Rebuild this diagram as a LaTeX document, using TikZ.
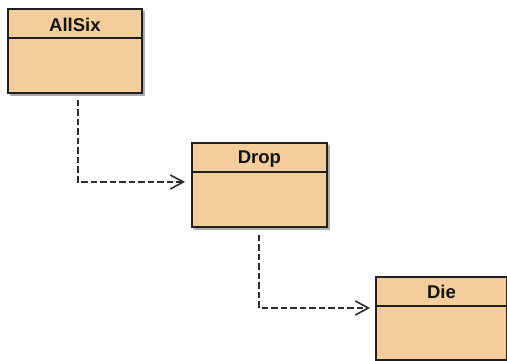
\documentclass[tikz,border=0pt]{standalone}
\usepackage{fontspec}
\setmainfont{Liberation Sans}
\usetikzlibrary{arrows.meta}
\definecolor{classfill}{RGB}{244,205,157}
\definecolor{classline}{RGB}{32,32,32}
\definecolor{depline}{RGB}{45,45,45}
\tikzset{
  classbox/.style={draw=classline, line width=1.9pt, fill=classfill, inner sep=0pt, anchor=north west},
  classrule/.style={draw=classline, line width=1.6pt},
  classname/.style={font=\bfseries\fontsize{18.5}{22}\selectfont, text=black!92, inner sep=0pt},
  classshadow/.style={fill=black, opacity=0.12},
  dependency/.style={draw=depline, line width=1.6pt, dash pattern=on 6.5pt off 3pt,
    -{Straight Barb[length=13pt,width=14pt,line width=1.6pt]}},
}
\begin{document}
\begin{tikzpicture}[x=1pt,y=-1pt]
\useasboundingbox (0,0) rectangle (507,361);

% soft drop shadows under the class boxes
\foreach \x/\y/\w/\h in {7/8/134/84, 191/142/135/84, 375/276/131/83}{
  \fill[classshadow] (\x+2,\y+2) rectangle ++(\w+2,\h+2);
  \fill[classshadow] (\x+3,\y+3) rectangle ++(\w+1,\h+1);
  \fill[classshadow] (\x+4,\y+4) rectangle ++(\w,\h);
}

% class AllSix
\node[classbox, minimum width=134pt, minimum height=84pt] (allsix) at (7,8) {};
\draw[classrule] ([yshift=-30pt]allsix.north west) -- ([yshift=-30pt]allsix.north east);
\node[classname] (allsixname) at ([yshift=-17pt]allsix.north) {AllSix};

% class Drop
\node[classbox, minimum width=135pt, minimum height=84pt] (drop) at (191,142) {};
\draw[classrule] ([yshift=-30pt]drop.north west) -- ([yshift=-30pt]drop.north east);
\node[classname] (dropname) at ([yshift=-17pt]drop.north) {Drop};

% class Die
\node[classbox, minimum width=131pt, minimum height=83pt] (die) at (375,276) {};
\draw[classrule] ([yshift=-30pt]die.north west) -- ([yshift=-30pt]die.north east);
\node[classname] (diename) at ([yshift=-16pt]die.north) {Die};

% dependency AllSix -> Drop
\coordinate (dep1start) at ([xshift=3pt,yshift=-6pt]allsix.south);
\coordinate (dep1end) at ([xshift=-6pt,yshift=-40pt]drop.north west);
\draw[dependency] (dep1start) |- (dep1end);

% dependency Drop -> Die
\coordinate (dep2start) at ([xshift=-0.5pt,yshift=-7pt]drop.south);
\coordinate (dep2end) at ([xshift=-5pt,yshift=-32pt]die.north west);
\draw[dependency] (dep2start) |- (dep2end);
\end{tikzpicture}
\end{document}
